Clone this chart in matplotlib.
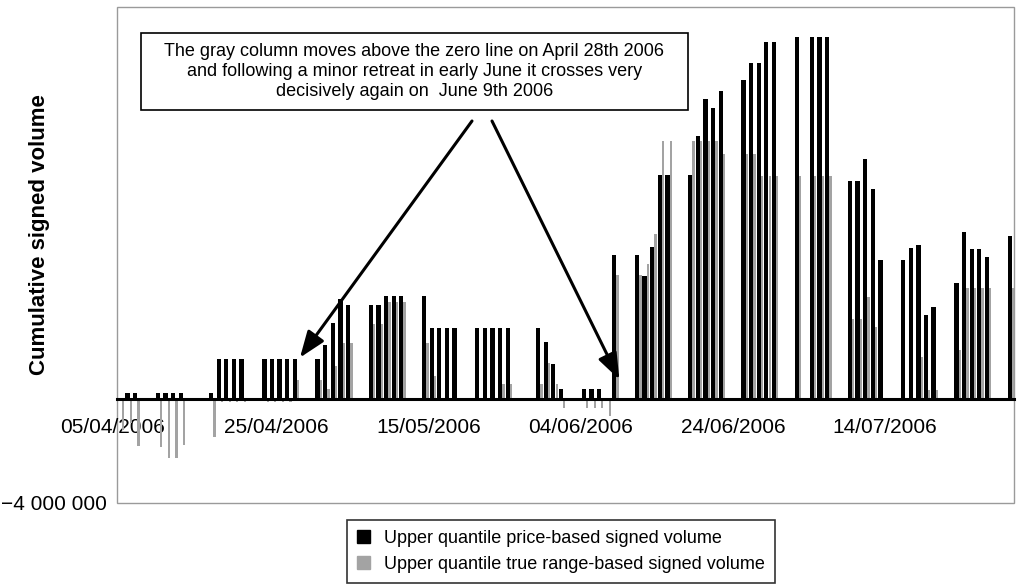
import pandas as pd
import matplotlib
matplotlib.use('Agg')
import matplotlib.pyplot as plt
import matplotlib.dates as mdates
from matplotlib.patches import Patch, Rectangle
from matplotlib.ticker import FuncFormatter
from matplotlib.transforms import ScaledTranslation

plt.rcParams['font.family'] = ['Liberation Sans', 'DejaVu Sans']

# trading days, 5 April to 31 July 2006 (market holidays left out)
holidays = ['2006-04-14', '2006-05-29', '2006-07-04']
days = pd.bdate_range('2006-04-05', '2006-07-31')
days = days[~days.isin(pd.to_datetime(holidays))]

# cumulative signed volume, millions
price_based = [
    0.0, 0.23, 0.23, 0.23, 0.23, 0.23, 0.23, 0.23, 1.5, 1.5, 1.5, 1.5,
    1.5, 1.5, 1.5, 1.5, 1.5,
    1.5, 2.04, 2.88, 3.81, 3.58, 3.58, 3.58, 3.92, 3.92, 3.92,
    3.92, 2.69, 2.69, 2.69, 2.69, 2.69, 2.69, 2.69, 2.69, 2.69,
    2.69, 2.15,
    1.31, 0.38, 0.38, 0.38, 0.38, 0.0, 5.5, 5.5, 4.69, 5.81, 8.58, 8.58,
    8.58, 10.04, 11.46, 11.15, 11.77, 12.19, 12.85, 12.85, 13.65, 13.65,
    13.85, 13.85, 13.85, 13.85, 8.35, 8.35, 9.19, 8.04, 5.31,
    5.31, 5.77, 5.88, 3.19, 3.5, 4.42, 6.38, 5.73, 5.73, 5.42, 6.23,
]
true_range_based = [
    -1.19, -0.92, -1.8, -1.84, -2.26, -2.26, -1.76, -1.46, -0.15, -0.15, -0.15, -0.15,
    -0.15, -0.15, -0.15, -0.15, 0.73,
    0.73, 0.38, 1.23, 2.11, 2.11, 2.84, 2.84, 3.69, 3.69, 3.69,
    2.11, 0.85, 0.0, 0.0, 0.0, 0.0, 0.0, 0.0, 0.54, 0.54,
    0.54, 1.35,
    0.54, -0.35, -0.35, -0.35, -0.35, -0.65, 4.73, 4.73, 5.15, 6.31, 9.88, 9.88,
    9.88, 9.88, 9.88, 9.88, 9.35, 9.35, 9.35, 8.54, 8.54, 8.54,
    8.54, 8.54, 8.54, 8.54, 3.04, 3.04, 3.88, 2.73, 0.0,
    0.0, 0.0, 1.58, 0.31, 0.31, 1.85, 4.23, 4.23, 4.23, 4.23, 4.23,
]
tick_days = ['2006-04-05', '2006-04-25', '2006-05-15', '2006-06-04', '2006-06-24', '2006-07-14']

note = ("The gray column moves above the zero line on April 28th 2006\n"
        "and following a minor retreat in early June it crosses very\n"
        "decisively again on  June 9th 2006")
first_cross = ('2006-04-28', 1.57)
second_cross = ('2006-06-09', 0.73)

GRAY = '#a3a3a3'
W, H = 1021, 586

x = mdates.date2num(days)
price = pd.Series(price_based) * 1e6
trange = pd.Series(true_range_based) * 1e6

fig = plt.figure(figsize=(W / 100, H / 100), dpi=100)
ax = fig.add_axes([117 / W, 1 - 503 / H, (1014 - 117) / W, (503 - 7) / H])

ax.bar(x - 0.21, price, width=0.56, color='black', zorder=2)
ax.bar(x + 0.23, trange, width=0.3, color=GRAY, zorder=2)

start = mdates.date2num(pd.Timestamp('2006-04-05'))
ax.set_xlim(start - 0.59, start + 117.36)
ax.set_ylim(-4e6, 15e6)

# frame + zero line
for s in ['left', 'right', 'top']:
    ax.spines[s].set_visible(False)
ax.add_patch(Rectangle((0, 0), 1, 1, transform=ax.transAxes, fill=False,
                       edgecolor='#9a9a9a', lw=1.0, clip_on=False, zorder=0))
ax.spines['bottom'].set_position(('data', 0))
ax.spines['bottom'].set_linewidth(2.2)
ax.spines['bottom'].set_zorder(3)

tk = mdates.date2num(pd.to_datetime(tick_days)) + 0.4
ax.set_xticks(tk)
ax.set_xticklabels([pd.Timestamp(t).strftime('%d/%m/%Y') for t in tick_days])
ax.tick_params(axis='x', length=0, pad=14, labelsize=15)

ax.set_yticks([-4e6])
ax.yaxis.set_major_formatter(FuncFormatter(
    lambda v, p: '{:,}'.format(int(v)).replace(',', ' ').replace('-', '\u2212')))
ax.tick_params(axis='y', length=0, pad=7, labelsize=15)

lbl = ax.get_xticklabels()[0]
lbl.set_transform(lbl.get_transform() + ScaledTranslation(-0.12, 0, fig.dpi_scale_trans))

fig.text(40 / W, 1 - 235 / H, 'Cumulative signed volume', rotation=90,
         ha='center', va='center', fontsize=16, fontweight='bold')

# note box and arrows
fig.patches.append(Rectangle((141 / W, 1 - 110 / H), (688 - 141) / W, 77 / H,
                             transform=fig.transFigure, fill=False,
                             edgecolor='black', lw=1.2, facecolor='white'))
fig.text(414.5 / W, 1 - 71.5 / H, note, ha='center', va='center',
         fontsize=13, linespacing=1.25, multialignment='center')

arrow = dict(arrowstyle='-|>,head_length=0.8,head_width=0.3', lw=2.2,
             color='black', mutation_scale=20, shrinkA=0, shrinkB=0)
for (d, v), start_px in [(first_cross, 472), (second_cross, 492)]:
    ax.annotate('', xy=(mdates.date2num(pd.Timestamp(d)) + 0.47, v * 1e6),
                xycoords='data', xytext=(start_px / W, 1 - 121 / H),
                textcoords='figure fraction', arrowprops=arrow)

handles = [Patch(facecolor='black', edgecolor='black', label='Upper quantile price-based signed volume'),
           Patch(facecolor=GRAY, edgecolor=GRAY, label='Upper quantile true range-based signed volume')]
leg = fig.legend(handles=handles, loc='upper left', bbox_to_anchor=(347 / W, 1 - 520 / H),
                 frameon=True, fancybox=False, fontsize=13, handlelength=0.7,
                 handleheight=0.7, handletextpad=0.8, labelspacing=0.5,
                 borderpad=0.55, borderaxespad=0)
leg.get_frame().set_edgecolor('black')
leg.get_frame().set_linewidth(1.2)

fig.savefig('out.png', dpi=100)
